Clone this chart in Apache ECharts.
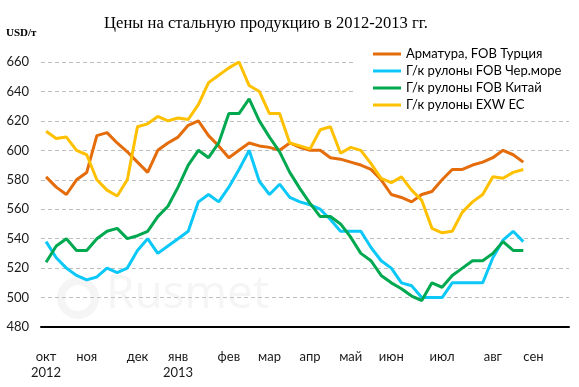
<!DOCTYPE html>
<html>
<head>
<meta charset="utf-8">
<script src="https://cdn.jsdelivr.net/npm/echarts@6/dist/echarts.min.js"></script>
<style>
  html, body { margin: 0; padding: 0; background: #fff; }
  #chart { width: 579px; height: 387px; }
</style>
</head>
<body>
<div id="chart"></div>
<script>
// Weekly observations, Oct 2012 - Aug 2013 (48 weeks)
const monthLabels = ['окт\n2012', 'ноя', 'дек', 'янв\n2013', 'фев', 'мар', 'апр', 'май', 'июн', 'июл', 'авг', 'сен'];
const monthWeekIndex = [0, 4, 9, 13, 18, 22, 26, 30, 34, 39, 44, 48];
const weekCount = 52;

const seriesNames = ['Арматура, FOB Турция', 'Г/к рулоны FOB Чер.море', 'Г/к рулоны FOB Китай', 'Г/к рулоны EXW ЕС'];

const rebarFobTurkey = [582, 575, 570, 580, 585, 610, 612, 605, 599, 592, 585, 600, 605, 609, 617, 620, 610, 603, 595, 600, 605, 603, 602, 600, 605, 602, 600, 600, 595, 594, 592, 590, 587, 580, 570, 568, 565, 570, 572, 580, 587, 587, 590, 592, 595, 600, 597, 592];
const hrcFobBlackSea = [538, 527, 520, 515, 512, 514, 520, 517, 520, 532, 540, 530, 535, 540, 545, 565, 570, 565, 575, 587, 600, 579, 570, 577, 568, 565, 563, 560, 553, 545, 545, 545, 534, 525, 520, 510, 508, 500, 500, 500, 510, 510, 510, 510, 527, 539, 545, 538];
const hrcFobChina = [524, 535, 540, 532, 532, 540, 545, 547, 540, 542, 545, 555, 562, 575, 590, 600, 595, 605, 625, 625, 635, 620, 609, 599, 585, 574, 564, 555, 555, 550, 541, 530, 525, 515, 510, 506, 501, 498, 510, 507, 515, 520, 525, 525, 530, 538, 532, 532];
const hrcExwEu = [613, 608, 609, 600, 597, 580, 573, 569, 580, 616, 618, 623, 620, 622, 621, 631, 646, 651, 656, 660, 644, 640, 625, 625, 605, 603, 601, 614, 616, 598, 602, 600, 591, 581, 578, 582, 573, 566, 547, 544, 545, 558, 565, 570, 582, 581, 585, 587];

const yTicks = { min: 480, max: 660, step: 20 };

const seriesColors = ['#E46C0A', '#0CC8F8', '#00A94F', '#FFC000'];

// category axis: one slot per week, month names at first week of month
const categories = [];
for (let i = 0; i < weekCount; i++) categories.push('');
monthWeekIndex.forEach((idx, k) => { categories[idx] = monthLabels[k]; });

const seriesData = [rebarFobTurkey, hrcFobBlackSea, hrcFobChina, hrcExwEu];

const labelFont = 'Lato, "Open Sans", sans-serif';

const chart = echarts.init(document.getElementById('chart'), null, { renderer: 'canvas' });
chart.setOption({
  animation: false,
  backgroundColor: '#ffffff',
  title: {
    text: 'Цены на стальную продукцию в 2012-2013 гг.',
    left: 261,
    textAlign: 'center',
    top: 10,
    textStyle: { fontFamily: '"Liberation Serif", "DejaVu Serif", serif', fontSize: 16.6, fontWeight: 'normal', color: '#000' }
  },
  graphic: [
    { type: 'text', left: 6, top: 28, style: { text: 'USD/т', fill: '#000', font: 'bold 11px "Liberation Serif", serif' } },
    { type: 'circle', shape: { cx: 78, cy: 298, r: 17 }, style: { fill: 'none', stroke: '#f5f5f5', lineWidth: 8 }, z: -1 },
    { type: 'text', left: 106, top: 272, style: { text: 'Rusmet', fill: '#f5f5f5', font: '46px "Open Sans", sans-serif' }, z: -1 }
  ],
  legend: {
    orient: 'vertical',
    left: 356,
    top: 38,
    padding: [8, 8, 8, 17],
    backgroundColor: '#ffffff',
    itemGap: 1,
    itemWidth: 28,
    itemHeight: 3,
    icon: 'rect',
    textStyle: { fontFamily: labelFont, fontSize: 13, color: '#000', lineHeight: 16 },
    data: seriesNames
  },
  grid: { left: 41, right: 10, top: 62, bottom: 60 },
  xAxis: {
    type: 'category',
    data: categories,
    boundaryGap: true,
    axisLine: { lineStyle: { color: '#000', width: 2 } },
    axisTick: { show: false },
    axisLabel: { interval: 0, margin: 22, fontFamily: labelFont, fontSize: 13, color: '#1a1a1a', lineHeight: 16 },
    splitLine: { show: false }
  },
  yAxis: {
    type: 'value',
    min: yTicks.min,
    max: yTicks.max,
    interval: yTicks.step,
    axisLine: { show: false },
    axisTick: { show: false },
    axisLabel: { margin: 12, fontFamily: labelFont, fontSize: 13, color: '#1a1a1a' },
    splitLine: { lineStyle: { color: '#BFBFBF', type: [4, 3], width: 1 } }
  },
  series: seriesNames.map((name, k) => ({
    name: name,
    type: 'line',
    data: seriesData[k],
    showSymbol: false,
    symbol: 'none',
    color: seriesColors[k],
    lineStyle: { width: 3, color: seriesColors[k] },
    z: 3
  }))
});
</script>
</body>
</html>
